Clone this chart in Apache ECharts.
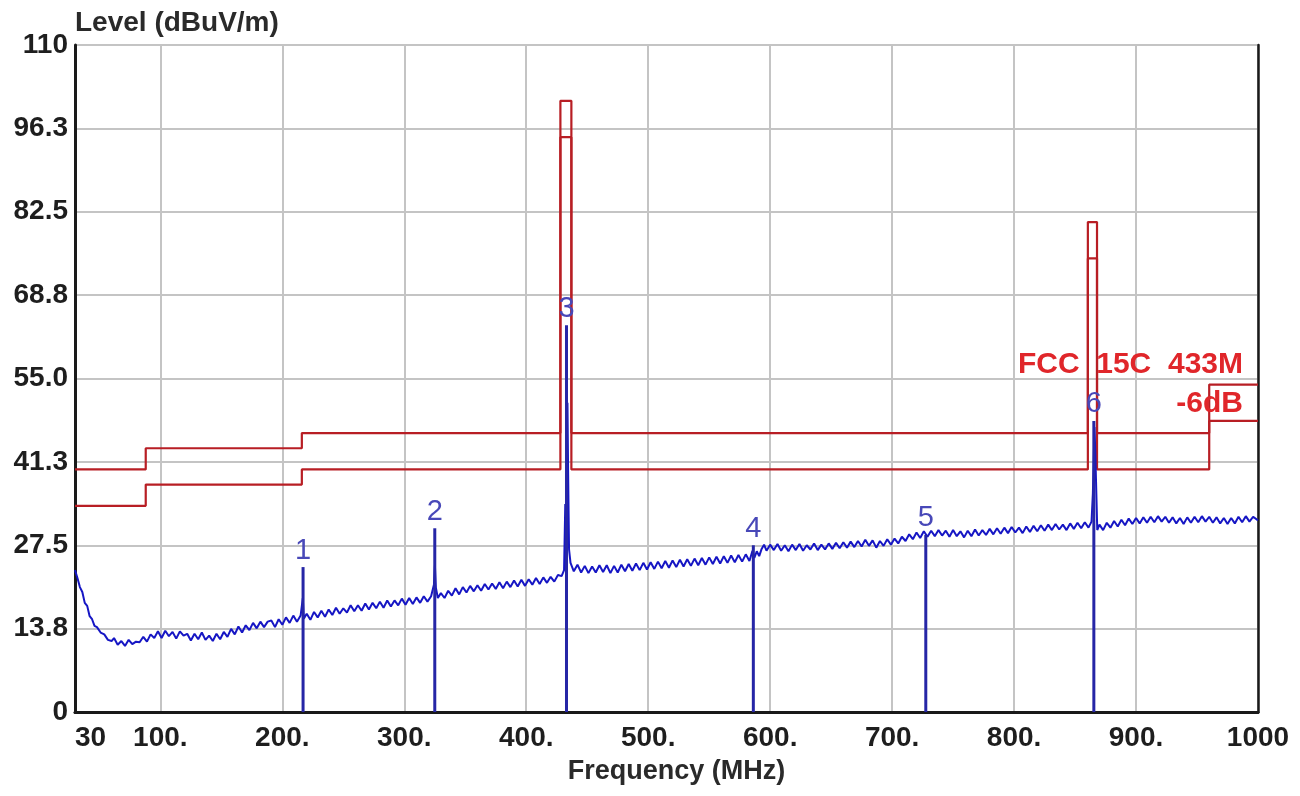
<!DOCTYPE html>
<html>
<head>
<meta charset="utf-8">
<script src="https://cdn.jsdelivr.net/npm/echarts@6/dist/echarts.min.js"></script>
<style>html,body{margin:0;padding:0;background:#fff}#c{width:1300px;height:796px}</style>
</head>
<body>
<div id="c"></div>
<script>
// ---- data ----
var xTickValues = [30, 100, 200, 300, 400, 500, 600, 700, 800, 900, 1000];
var xTickLabels = ['30', '100.', '200.', '300.', '400.', '500.', '600.', '700.', '800.', '900.', '1000'];
var yTickLabels = ['0', '13.8', '27.5', '41.3', '55.0', '68.8', '82.5', '96.3', '110'];

var limitFreq  = [30, 88, 88, 216, 216, 428, 428, 437, 437, 860.5, 860.5, 868, 868, 960, 960, 1000];
var limitUpper = [40, 40, 43.5, 43.5, 46, 46, 100.8, 100.8, 46, 46, 80.8, 80.8, 46, 46, 54, 54];
var limitLower = [34, 34, 37.5, 37.5, 40, 40, 94.8, 94.8, 40, 40, 74.8, 74.8, 40, 40, 48, 48];

var markerNames = ['1', '2', '3', '4', '5', '6'];
var markerFreq  = [217, 325, 433, 586.2, 727.6, 865.4];
var markerLevel = [23.9, 30.3, 63.8, 27.5, 29.2, 48.0];

var trace = [
[30,23.4],[32,22.1],[34,20.6],[36,19.8],[38,18.0],[40,17.5],[42,15.8],[44,15.3],[46,14.2],[48,14.0],
[51,13.1],[54,12.8],[57,11.9],[60,11.7],[62,12.2],[65,11.1],[68,11.7],[71,10.9],[74,11.9],[77,11.2],
[80,11.6],[83,11.5],[86,12.4],[89,11.6],[92,12.8],[95,12.2],[98,13.3],[101,12.2],[104,13.4],[107,12.5],
[110,13.2],[113,12.1],[116,13.3],[119,12.6],[122,12.9],[125,11.8],[128,12.9],[131,12.0],[134,13.1],[137,11.9],
[140,12.6],[143,11.7],[146,12.9],[149,12.0],[152,13.2],[155,12.4],[158,13.7],[161,12.8],[164,14.1],[167,13.1],
[170,14.3],[173,13.5],[176,14.7],[179,13.8],[182,14.9],[185,14.0],[188,14.9],[191,15.1],[194,14.0],[197,15.3],
[200,14.4],[203,15.6],[206,14.7],[209,15.9],[212,14.9],[215,15.9],[216.8,18.8],[217.6,15.4],[220,16.2],[223,15.2],
[226,16.5],[229,15.6],[232,16.7],[235,15.7],[238,16.9],[241,16.0],[244,17.2],[247,16.2],[250,17.1],[253,16.4],
[256,17.6],[259,16.6],[262,17.6],[265,16.7],[268,17.9],[271,16.9],[274,18.0],[277,17.1],[280,18.2],[283,17.2],
[286,18.4],[289,17.4],[292,18.4],[295,17.6],[298,18.7],[301,17.7],[304,18.8],[307,17.8],[310,18.9],[313,18.0],
[316,19.1],[319,18.2],[322,19.1],[324.3,21.0],[325.1,24.2],[325.9,20.5],[327.5,18.8],[330,19.6],[333,18.8],[336,20.0],
[339,19.2],[342,20.4],[345,19.4],[348,20.6],[351,19.7],[354,20.8],[357,19.9],[360,20.9],[363,20.0],[366,21.1],
[369,20.2],[372,21.2],[375,20.3],[378,21.4],[381,20.4],[384,21.5],[387,20.6],[390,21.7],[393,20.7],[396,21.8],
[399,20.8],[402,21.9],[405,21.0],[408,22.1],[411,21.1],[414,22.2],[417,21.3],[420,22.3],[423,21.5],[426,22.6],
[429,22.4],[431,23.4],[432,34.3],[432.7,29.0],[433.3,49.8],[433.8,51.0],[434.3,40.0],[435.1,26.8],[436.3,24.6],[439,23.2],
[442,24.3],[445,23.0],[448,24.1],[451,22.9],[454,24.0],[457,23.0],[460,24.2],[463,23.1],[466,24.2],[469,22.9],
[472,24.1],[475,23.0],[478,24.3],[481,23.2],[484,24.4],[487,23.3],[490,24.5],[493,23.4],[496,24.6],[499,23.5],
[502,24.7],[505,23.6],[508,24.8],[511,23.7],[514,24.9],[517,23.8],[520,25.0],[523,23.9],[526,25.1],[529,24.0],
[532,25.2],[535,24.1],[538,25.3],[541,24.2],[544,25.4],[547,24.3],[550,25.5],[553,24.4],[556,25.6],[559,24.5],
[562,25.7],[565,24.6],[568,25.8],[571,24.7],[574,25.9],[577,24.8],[580,26.0],[583,24.9],[585.5,26.6],[587,25.4],
[589,26.5],[591,25.7],[593,26.9],[595,27.6],[597,26.6],[600,27.6],[603,26.7],[606,27.7],[609,26.6],[612,27.5],
[615,26.5],[618,27.6],[621,26.7],[624,27.7],[627,26.6],[630,27.5],[633,26.8],[636,27.8],[639,26.7],[642,27.6],
[645,26.8],[648,27.8],[651,26.9],[654,27.9],[657,27.0],[660,28.0],[663,27.1],[666,28.1],[669,27.2],[672,28.2],
[675,27.3],[678,28.4],[681,27.4],[684,28.3],[687,27.1],[690,28.2],[693,27.4],[696,28.5],[699,27.6],[702,28.6],
[705,27.8],[708,28.9],[711,28.2],[714,29.3],[717,28.5],[720,29.6],[723,28.7],[726,29.8],[729,28.9],[732,29.9],
[735,29.0],[738,30.0],[741,29.1],[744,29.9],[747,28.9],[750,30.0],[753,29.0],[756,29.8],[759,28.8],[762,29.9],
[765,29.0],[768,30.1],[771,29.1],[774,30.0],[777,29.2],[780,30.2],[783,29.3],[786,30.3],[789,29.4],[792,30.4],
[795,29.5],[798,30.5],[801,29.6],[804,30.4],[807,29.5],[810,30.6],[813,29.7],[816,30.7],[819,29.8],[822,30.8],
[825,29.9],[828,30.9],[831,30.0],[834,31.0],[837,30.1],[840,30.9],[843,30.0],[846,31.1],[849,30.2],[852,31.2],
[855,30.3],[858,31.3],[861,30.4],[863.5,31.4],[864.6,36.0],[865.3,41.5],[865.9,47.0],[866.5,43.5],[867.2,38.0],[868.2,30.0],
[870,30.9],[873,30.0],[876,31.2],[879,30.4],[882,31.5],[885,30.6],[888,31.7],[891,30.8],[894,31.9],[897,31.0],
[900,32.0],[903,31.1],[906,32.1],[909,31.2],[912,32.2],[915,31.3],[918,32.3],[921,31.4],[924,32.2],[927,31.2],
[930,32.1],[933,31.1],[936,32.0],[939,31.0],[942,32.1],[945,31.2],[948,32.2],[951,31.3],[954,32.3],[957,31.4],
[960,32.2],[963,31.2],[966,32.1],[969,31.1],[972,32.0],[975,31.0],[978,32.0],[981,31.1],[984,32.2],[987,31.3],
[990,32.3],[993,31.4],[996,32.2],[1000,31.6]
];

// ---- build ----
function zip(a, b) { return a.map(function (v, i) { return [v, b[i]]; }); }

var FONT = '"Liberation Sans", Arial, sans-serif';
var FRAME = { show: true, lineStyle: { color: '#1a1a1a', width: 3 } };
var chart = echarts.init(document.getElementById('c'), null, { renderer: 'canvas' });

chart.setOption({
  animation: false,
  backgroundColor: '#ffffff',
  grid: { left: 75, right: 42, top: 45, bottom: 84, show: false },
  xAxis: [{
    type: 'value', min: 30, max: 1000, position: 'bottom',
    name: 'Frequency (MHz)', nameLocation: 'middle', nameGap: 46,
    nameTextStyle: { fontFamily: FONT, fontSize: 27, fontWeight: 'bold', color: '#2a2a2a', padding: [0, 0, 0, 20] },
    axisLine: FRAME,
    axisTick: { show: false, customValues: xTickValues },
    axisLabel: {
      customValues: xTickValues, margin: 12,
      fontFamily: FONT, fontSize: 28, fontWeight: 'bold', color: '#1e1e1e',
      alignMinLabel: 'left',
      formatter: function (v) { var i = xTickValues.indexOf(v); return i >= 0 ? xTickLabels[i] : ''; }
    },
    splitLine: { show: true, lineStyle: { color: '#c4c4c4', width: 2 } }
  }, {
    type: 'value', min: 30, max: 1000, position: 'top',
    axisLine: { show: true, lineStyle: { color: '#1a1a1a', width: 2.5 } },
    axisTick: { show: false }, axisLabel: { show: false }, splitLine: { show: false }
  }],
  yAxis: [{
    type: 'value', min: 0, max: 110, interval: 13.75, position: 'left',
    name: 'Level (dBuV/m)', nameLocation: 'end', nameGap: 8,
    nameTextStyle: { fontFamily: FONT, fontSize: 28, fontWeight: 'bold', color: '#2a2a2a', align: 'left', verticalAlign: 'bottom' },
    axisLine: FRAME,
    axisTick: { show: false },
    axisLabel: {
      margin: 7, fontFamily: FONT, fontSize: 28, fontWeight: 'bold', color: '#1e1e1e',
      formatter: function (v) { return yTickLabels[Math.round(v / 13.75)]; }
    },
    splitLine: { show: true, lineStyle: { color: '#c4c4c4', width: 2 } }
  }, {
    type: 'value', min: 0, max: 110, interval: 13.75, position: 'right',
    axisLine: { show: true, lineStyle: { color: '#1a1a1a', width: 2.5 } },
    axisTick: { show: false }, axisLabel: { show: false }, splitLine: { show: false }
  }],
  series: [
    { name: 'limit', type: 'line', data: zip(limitFreq, limitUpper), symbol: 'none',
      lineStyle: { color: '#b81e24', width: 2.2 }, z: 3 },
    { name: 'margin', type: 'line', data: zip(limitFreq, limitLower), symbol: 'none',
      lineStyle: { color: '#b81e24', width: 2.2 }, z: 3 },
    { name: 'trace', type: 'line', data: trace, symbol: 'none',
      lineStyle: { color: '#1616c4', width: 2 }, z: 4 },
    { name: 'markers', type: 'bar', data: zip(markerFreq, markerLevel), barWidth: 3,
      itemStyle: { color: '#2626a6' }, z: 5,
      label: { show: true, position: 'top', distance: 2, fontFamily: FONT, fontSize: 29, color: '#4848b8',
        formatter: function (p) { return markerNames[p.dataIndex]; } } }
  ],
  graphic: [
    { type: 'text', right: 57, top: 350, z: 10,
      style: { text: 'FCC  15C  433M', fontFamily: FONT, fontSize: 30, fontWeight: 'bold', fill: '#e0262a' } },
    { type: 'text', right: 57, top: 389, z: 10,
      style: { text: '-6dB', fontFamily: FONT, fontSize: 30, fontWeight: 'bold', fill: '#e0262a' } }
  ]
});
</script>
</body>
</html>
